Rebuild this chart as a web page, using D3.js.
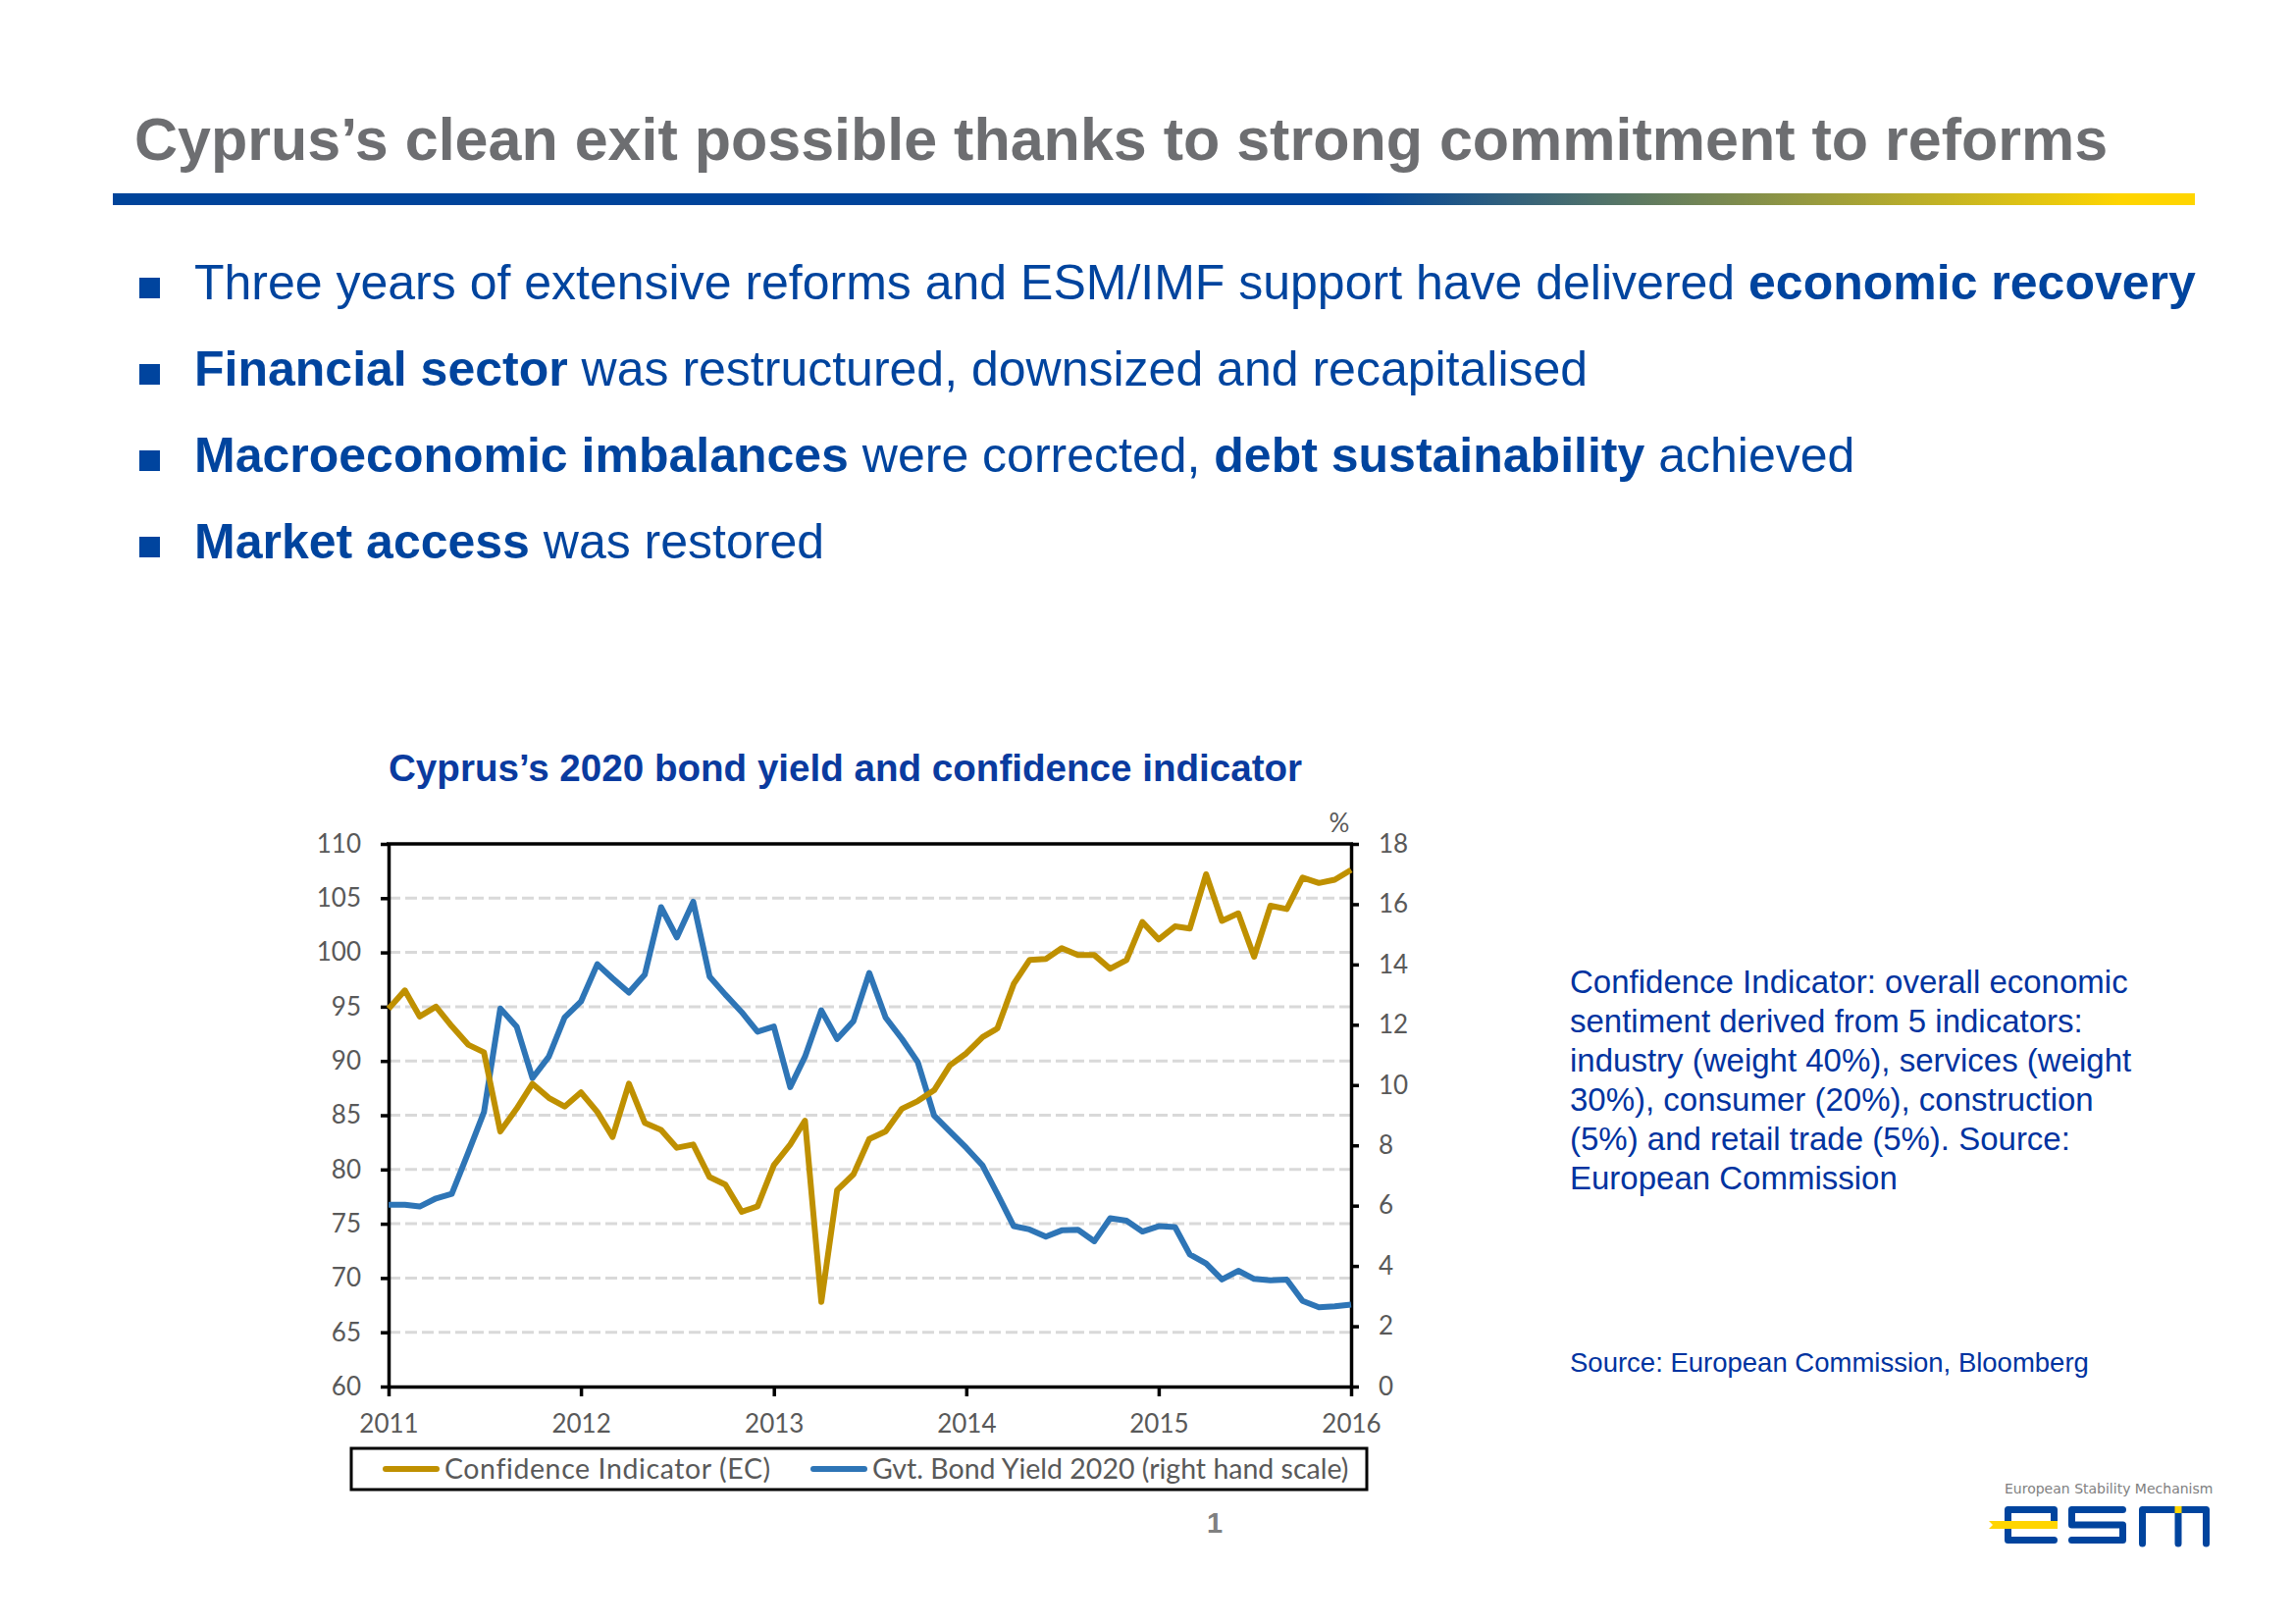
<!DOCTYPE html>
<html>
<head>
<meta charset="utf-8">
<script src="https://cdn.jsdelivr.net/npm/d3@7"></script>
<style>
  body { margin: 0; background: #fff; }
  svg { display: block; }
</style>
</head>
<body>
<div id="slide"></div>
<script>
// monthly observations, Jan 2011 .. Jan 2016
var months = d3.timeMonth.range(new Date(2011, 0, 1), new Date(2016, 1, 1));

var confidence = [
  94.8, 96.5, 94.1, 95.0, 93.2, 91.5, 90.8, 83.5, 85.6, 87.9, 86.6, 85.8,
  87.1, 85.3, 83.0, 87.9, 84.3, 83.65, 82.0, 82.3, 79.3, 78.6, 76.1, 76.6,
  80.4, 82.3, 84.5, 67.8, 78.1, 79.55, 82.8, 83.5, 85.6, 86.3, 87.3, 89.6,
  90.7, 92.2, 93.0, 97.1, 99.3, 99.4, 100.4, 99.75, 99.75, 98.5, 99.3, 102.8,
  101.2, 102.4, 102.2, 107.2, 102.9, 103.6, 99.6, 104.3, 104.0, 106.9, 106.4, 106.7,
  107.6
];

var bondYield = [
  6.03, 6.03, 5.97, 6.24, 6.39, 7.75, 9.1, 12.54, 11.94, 10.23, 10.94, 12.24,
  12.77, 14.01, 13.54, 13.07, 13.66, 15.9, 14.9, 16.08, 13.6, 13.0, 12.42, 11.77,
  11.94, 9.93, 10.94, 12.48, 11.53, 12.12, 13.72, 12.24, 11.53, 10.76, 8.99, 8.46,
  7.92, 7.33, 6.39, 5.32, 5.21, 4.97, 5.18, 5.2, 4.82, 5.58, 5.5, 5.14,
  5.32, 5.29, 4.38, 4.08, 3.55, 3.84, 3.57, 3.52, 3.55, 2.84, 2.63, 2.66,
  2.72
];

var leftTicks = d3.range(60, 111, 5);
var rightTicks = d3.range(0, 19, 2);
var seriesNames = ["Confidence Indicator (EC)", "Gvt. Bond Yield 2020 (right hand scale)"];

var pageTitle = "Cyprus\u2019s clean exit possible thanks to strong commitment to reforms";
var bullets = [
  [["Three years of extensive reforms and ESM/IMF support have delivered ", false], ["economic recovery", true]],
  [["Financial sector", true], [" was restructured, downsized and recapitalised", false]],
  [["Macroeconomic imbalances", true], [" were corrected, ", false], ["debt sustainability", true], [" achieved", false]],
  [["Market access", true], [" was restored", false]]
];
var noteLines = [
  "Confidence Indicator: overall economic",
  "sentiment derived from 5 indicators:",
  "industry (weight 40%), services (weight",
  "30%), consumer (20%), construction",
  "(5%) and retail trade (5%). Source:",
  "European Commission"
];
var sourceText = "Source: European Commission, Bloomberg";

var gold = "#bf9000", blue = "#2e75b6", navy = "#00449e", axisGrey = "#595959";
var calibri = "Lato, 'Open Sans', sans-serif";
var arial = "'Liberation Sans', Arial, sans-serif";

var svg = d3.select("#slide").append("svg")
  .attr("width", 2338).attr("height", 1655);

// ---- header
svg.append("text")
  .attr("x", 137).attr("y", 163)
  .style("font-family", arial).style("font-weight", "bold")
  .style("font-size", "61px").style("fill", "#6d6e71")
  .text(pageTitle);

var grad = svg.append("defs").append("linearGradient").attr("id", "bar");
grad.append("stop").attr("offset", "0.6").attr("stop-color", "#00449a");
grad.append("stop").attr("offset", "0.965").attr("stop-color", "#ffd500");
svg.append("rect")
  .attr("x", 115).attr("y", 197).attr("width", 2122).attr("height", 12)
  .attr("fill", "url(#bar)");

// ---- bullets
bullets.forEach(function(parts, i) {
  var base = 305 + i * 88;
  svg.append("rect")
    .attr("x", 142).attr("y", base - 22).attr("width", 21).attr("height", 21)
    .attr("fill", navy);
  var t = svg.append("text")
    .attr("x", 198).attr("y", base)
    .style("font-family", arial).style("font-size", "50px").style("fill", navy);
  parts.forEach(function(p) {
    t.append("tspan").style("font-weight", p[1] ? "bold" : "normal").text(p[0]);
  });
});

// ---- chart
var margin = {top: 860, left: 396},
  width = 1377 - 396,
  height = 1413 - 860;

svg.append("text")
  .attr("x", 396).attr("y", 796)
  .style("font-family", arial).style("font-weight", "bold")
  .style("font-size", "38.6px").style("fill", "#0a3b9f")
  .text("Cyprus\u2019s 2020 bond yield and confidence indicator");

var g = svg.append("g")
  .attr("transform", "translate(" + margin.left + "," + margin.top + ")");

var x = d3.scaleTime()
  .domain([new Date(2011, 0, 1), new Date(2016, 0, 1)])
  .range([0, width]);
var yL = d3.scaleLinear().domain([60, 110]).range([height, 0]);
var yR = d3.scaleLinear().domain([0, 18]).range([height, 0]);

// dashed gridlines
g.append("g").selectAll("line")
  .data(leftTicks.filter(function(d) { return d > 60 && d < 110; }))
  .enter().append("line")
  .attr("x1", 0).attr("x2", width)
  .attr("y1", function(d) { return yL(d); })
  .attr("y2", function(d) { return yL(d); })
  .attr("stroke", "#d9d9d9").attr("stroke-width", 3)
  .attr("stroke-dasharray", "12,5");

// top border
g.append("line")
  .attr("x1", -2).attr("x2", width + 2).attr("y1", 0).attr("y2", 0)
  .attr("stroke", "#000").attr("stroke-width", 3.5);

function styleAxis(sel) {
  sel.select(".domain").attr("stroke", "#000").attr("stroke-width", 3.5);
  sel.selectAll(".tick line").attr("stroke", "#000").attr("stroke-width", 3.5);
  sel.selectAll("text")
    .style("font-family", calibri).style("font-size", "26px").style("fill", axisGrey);
}

g.append("g")
  .call(d3.axisLeft(yL).tickValues(leftTicks).tickSize(8).tickSizeOuter(0).tickPadding(20))
  .call(styleAxis);

g.append("g")
  .attr("transform", "translate(" + width + ",0)")
  .call(d3.axisRight(yR).tickValues(rightTicks).tickSize(8).tickSizeOuter(0).tickPadding(20))
  .call(styleAxis);

g.append("g")
  .attr("transform", "translate(0," + height + ")")
  .call(d3.axisBottom(x).ticks(d3.timeYear.every(1)).tickFormat(d3.timeFormat("%Y"))
    .tickSize(10).tickSizeOuter(0).tickPadding(19))
  .call(styleAxis);

g.append("text")
  .attr("x", width - 12).attr("y", -12)
  .attr("text-anchor", "middle")
  .style("font-family", calibri).style("font-size", "26px").style("fill", axisGrey)
  .text("%");

var lineL = d3.line()
  .x(function(d, i) { return x(months[i]); })
  .y(function(d) { return yL(d); });
var lineR = d3.line()
  .x(function(d, i) { return x(months[i]); })
  .y(function(d) { return yR(d); });

g.append("path")
  .attr("d", lineR(bondYield))
  .attr("fill", "none").attr("stroke", blue).attr("stroke-width", 6)
  .attr("stroke-linejoin", "round");

g.append("path")
  .attr("d", lineL(confidence))
  .attr("fill", "none").attr("stroke", gold).attr("stroke-width", 6)
  .attr("stroke-linejoin", "round");

// legend
svg.append("rect")
  .attr("x", 358).attr("y", 1476).attr("width", 1035).attr("height", 42)
  .attr("fill", "#fff").attr("stroke", "#000").attr("stroke-width", 3);

var legendItems = [
  {name: seriesNames[0], color: gold, x: 390, spacing: 0.6},
  {name: seriesNames[1], color: blue, x: 826, spacing: 0}
];
legendItems.forEach(function(d) {
  svg.append("line")
    .attr("x1", d.x + 3).attr("x2", d.x + 55).attr("y1", 1497).attr("y2", 1497)
    .attr("stroke", d.color).attr("stroke-width", 6).attr("stroke-linecap", "round");
  svg.append("text")
    .attr("x", d.x + 63).attr("y", 1507)
    .style("font-family", calibri).style("font-size", "28.5px").style("fill", axisGrey)
    .style("letter-spacing", d.spacing + "px")
    .text(d.name);
});

// ---- side note
noteLines.forEach(function(line, i) {
  svg.append("text")
    .attr("x", 1600).attr("y", 1012 + i * 40)
    .style("font-family", arial).style("font-size", "33px").style("fill", "#0033a0")
    .text(line);
});
svg.append("text")
  .attr("x", 1600).attr("y", 1398)
  .style("font-family", arial).style("font-size", "27.5px").style("fill", "#0033a0")
  .text(sourceText);

// page number
svg.append("text")
  .attr("x", 1238).attr("y", 1562).attr("text-anchor", "middle")
  .style("font-family", arial).style("font-weight", "bold")
  .style("font-size", "29px").style("fill", "#808080")
  .text("1");

// ---- logo
var logo = svg.append("g");
logo.append("text")
  .attr("x", 2043).attr("y", 1522)
  .style("font-family", "'DejaVu Sans', sans-serif").style("font-size", "14px")
  .style("fill", "#808080")
  .text("European Stability Mechanism");
var logoPaths = [
  "M2093.5,1554 L2093.5,1538.5 L2046.5,1538.5 L2046.5,1569.5 L2093.5,1569.5",
  "M2163.5,1538.5 L2111.5,1538.5 L2111.5,1554 L2163.5,1554 L2163.5,1569.5 L2111.5,1569.5",
  "M2183.5,1573 L2183.5,1538.5 L2248.5,1538.5 L2248.5,1573",
  "M2220,1538.5 L2220,1573"
];
logoPaths.forEach(function(p) {
  logo.append("path").attr("d", p)
    .attr("fill", "none").attr("stroke", navy).attr("stroke-width", 7)
    .attr("stroke-linejoin", "round").attr("stroke-linecap", "round");
});
logo.append("path")
  .attr("d", "M2027,1550 L2097,1550 L2097,1558 L2027,1558 L2031,1554 Z")
  .attr("fill", "#ffd500");
logo.append("rect")
  .attr("x", 2216.5).attr("y", 1535).attr("width", 7).attr("height", 7)
  .attr("fill", "#ffd500");
</script>
</body>
</html>
